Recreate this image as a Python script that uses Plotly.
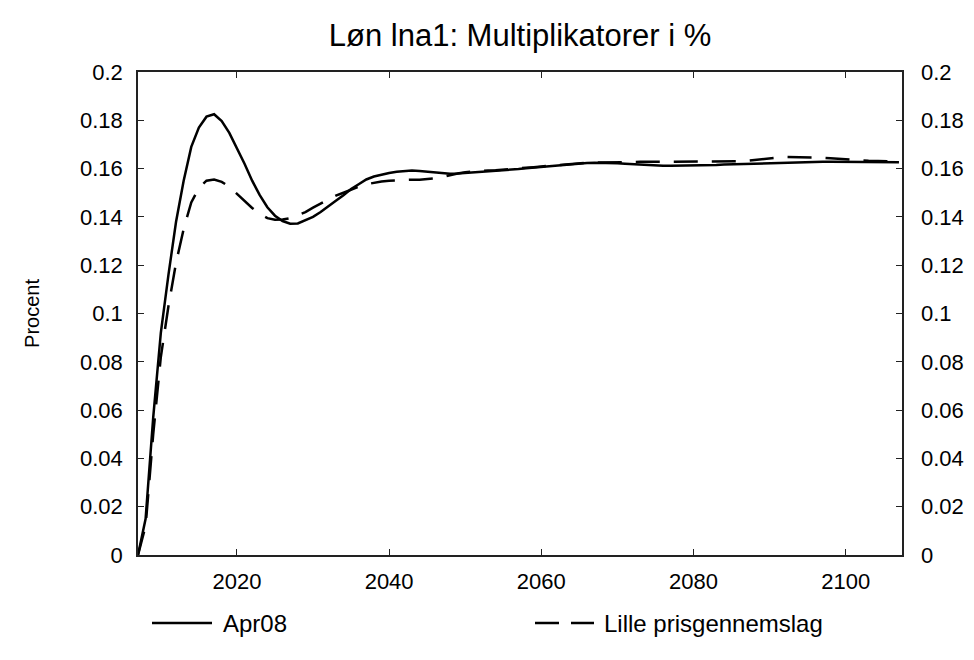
import plotly.graph_objects as go

years = list(range(2007, 2108))

apr08 = [
    0.0, 0.015, 0.057, 0.092, 0.116, 0.138, 0.155, 0.169, 0.177, 0.1815,           # 2007-2016
    0.1825, 0.1797, 0.1748, 0.1685, 0.162, 0.155, 0.149, 0.144, 0.1405, 0.1383,    # 2017-2026
    0.1372, 0.1373, 0.1385, 0.1400, 0.1420, 0.1445, 0.1467, 0.1490, 0.1515, 0.1535,  # 2027-2036
    0.1555, 0.1567, 0.1576, 0.1582, 0.1587, 0.1590, 0.1592, 0.1590, 0.1587, 0.1583,  # 2037-2046
    0.1580, 0.1579, 0.1580, 0.1582, 0.1584, 0.1586, 0.1587, 0.1589, 0.1592, 0.1595,  # 2047-2056
    0.1598, 0.1601, 0.1604, 0.1607, 0.1610, 0.1612, 0.1615, 0.1618, 0.1621, 0.1623,  # 2057-2066
    0.1624, 0.1624, 0.1624, 0.1622, 0.1620, 0.1618, 0.1617, 0.1615, 0.1613, 0.1612,  # 2067-2076
    0.1612, 0.1612, 0.1612, 0.1612, 0.1612, 0.1614, 0.1615, 0.1617, 0.1618, 0.1620,  # 2077-2086
    0.1621, 0.1622, 0.1623, 0.1624, 0.1625, 0.1625, 0.1626, 0.1626, 0.1627, 0.1627,  # 2087-2096
    0.1628, 0.1628, 0.1628, 0.1628, 0.1628, 0.1628, 0.1628, 0.1628, 0.1627, 0.1627,  # 2097-2106
    0.1626,                                                                          # 2107
]

lille = [
    0.0, 0.012, 0.050, 0.082, 0.103, 0.121, 0.135, 0.146, 0.152, 0.155,            # 2007-2016
    0.1555, 0.1545, 0.1525, 0.1495, 0.1465, 0.1437, 0.1413, 0.1395, 0.1388, 0.1389,  # 2017-2026
    0.1395, 0.1407, 0.1420, 0.1438, 0.1455, 0.1472, 0.1488, 0.1500, 0.1513, 0.1525,  # 2027-2036
    0.1535, 0.1542, 0.1547, 0.1550, 0.1552, 0.1553, 0.1554, 0.1554, 0.1556, 0.1560,  # 2037-2046
    0.1565, 0.1573, 0.1580, 0.1585, 0.1588, 0.1590, 0.1592, 0.1593, 0.1595, 0.1598,  # 2047-2056
    0.1600, 0.1603, 0.1606, 0.1609, 0.1612, 0.1615, 0.1618, 0.1620, 0.1622, 0.1624,  # 2057-2066
    0.1625, 0.1626, 0.1627, 0.1628, 0.1628, 0.1628, 0.1628, 0.1628, 0.1628, 0.1629,  # 2067-2076
    0.1630, 0.1630, 0.1630, 0.1630, 0.1630, 0.1630, 0.1630, 0.1630, 0.1630, 0.1630,  # 2077-2086
    0.1632, 0.1636, 0.1641, 0.1644, 0.1646, 0.1648, 0.1648, 0.1648, 0.1647, 0.1646,  # 2087-2096
    0.1645, 0.1643, 0.1640, 0.1638, 0.1636, 0.1634, 0.1632, 0.1631, 0.1630, 0.1630,  # 2097-2106
    0.1630,                                                                          # 2107
]

series_names = ["Apr08", "Lille prisgennemslag"]
x_ticks = [2020, 2040, 2060, 2080, 2100]
y_ticks = [0, 0.02, 0.04, 0.06, 0.08, 0.1, 0.12, 0.14, 0.16, 0.18, 0.2]
title_text = "Løn lna1: Multiplikatorer i %"
y_title = "Procent"

FONT = "Liberation Sans"
LW = 2.5

fig = go.Figure()
fig.add_trace(go.Scatter(x=years, y=apr08, mode="lines", name=series_names[0],
                         line=dict(color="black", width=LW), showlegend=False))
# second series on the right-hand axis (same 0-0.2 scale) so that axis is live
fig.add_trace(go.Scatter(x=years, y=lille, mode="lines", name=series_names[1],
                         yaxis="y2",
                         line=dict(color="black", width=LW, dash="24px,14px"),
                         showlegend=False))

tickfont = dict(family=FONT, size=22, color="black")
axis_common = dict(showgrid=False, zeroline=False, showline=True, linecolor="#222",
                   linewidth=1.5, ticks="inside", ticklen=6, tickcolor="#222",
                   tickfont=tickfont)

# plot area: x 130..894, y 64..547 in figure coords (page shows figure offset by 8px)
L, R, T, B = 130, 80, 64, 113
PW, PH = 974 - L - R, 660 - T - B

fig.update_layout(
    width=974, height=660,
    margin=dict(l=L, r=R, t=T, b=B),
    paper_bgcolor="white", plot_bgcolor="white",
    title=dict(text=title_text, x=0.5, xref="paper", xanchor="center",
               y=1 - 27 / 660, yanchor="middle",
               font=dict(family=FONT, size=31, color="black")),
    xaxis=dict(range=[2007, 2107.4], tickvals=x_ticks, mirror="ticks",
               ticklabelstandoff=6, **axis_common),
    yaxis=dict(range=[0, 0.2], tickvals=y_ticks, mirror="ticks",
               ticklabelstandoff=9,
               title=dict(text=y_title, font=dict(family=FONT, size=20, color="black"),
                          standoff=35),
               **axis_common),
    yaxis2=dict(range=[0, 0.2], tickvals=y_ticks, overlaying="y", side="right",
                showgrid=False, zeroline=False, showline=False,
                ticks="inside", ticklen=6, tickcolor="#222",
                ticklabelstandoff=18, tickfont=tickfont),
    showlegend=False,
)

# Legend drawn in paper coordinates beneath the plot
ly = -68 / PH
fig.add_shape(type="line", xref="paper", yref="paper",
              x0=(152 - 138) / PW, x1=(212 - 138) / PW, y0=ly, y1=ly,
              line=dict(color="black", width=LW))
fig.add_shape(type="line", xref="paper", yref="paper",
              x0=(535 - 138) / PW, x1=(594 - 138) / PW, y0=ly, y1=ly,
              line=dict(color="black", width=LW, dash="24px,12px"))
fig.add_annotation(text=series_names[0], xref="paper", yref="paper",
                   x=(221 - 138) / PW, y=ly, xanchor="left", yanchor="middle",
                   showarrow=False, font=dict(family=FONT, size=24, color="black"))
fig.add_annotation(text=series_names[1], xref="paper", yref="paper",
                   x=(602 - 138) / PW, y=ly, xanchor="left", yanchor="middle",
                   showarrow=False, font=dict(family=FONT, size=24, color="black"))

fig.write_html("out.html")
